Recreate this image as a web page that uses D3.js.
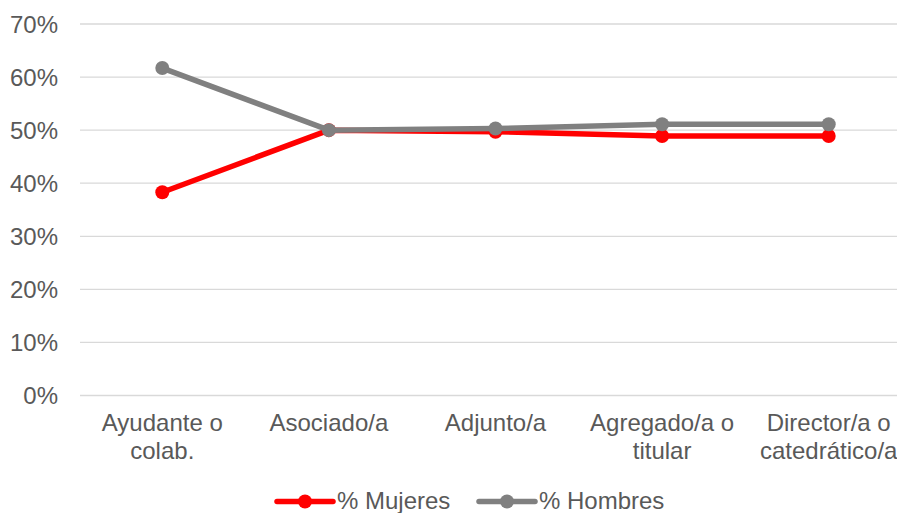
<!DOCTYPE html>
<html><head><meta charset="utf-8">
<script src="https://cdn.jsdelivr.net/npm/d3@7"></script>
<style>body{margin:0;background:#fff}svg{display:block}text{font-family:"Liberation Sans",Arial,sans-serif;fill:#595959}</style>
</head><body><svg id="c" width="897" height="513"></svg>
<script>
const categories = [["Ayudante o","colab."],["Asociado/a"],["Adjunto/a"],["Agregado/a o","titular"],["Director/a o","catedrático/a"]];
const mujeres = [0.383, 0.500, 0.497, 0.489, 0.489];
const hombres = [0.617, 0.500, 0.503, 0.511, 0.511];
const yTicks = [0,0.1,0.2,0.3,0.4,0.5,0.6,0.7];
const seriesNames = ["% Mujeres","% Hombres"];
const colors = ["#FF0000","#808080"];

const FS = 24;
const svg = d3.select("#c");
const ids = d3.range(categories.length);
const x = d3.scaleBand().domain(ids).range([79,912]);
const y = d3.scaleLinear().domain([0,0.7]).range([395.5,24]);

const g = svg.append("g");
g.selectAll("line.grid").data(yTicks).enter().append("line")
  .attr("x1",80).attr("x2",912).attr("y1",d=>y(d)).attr("y2",d=>y(d))
  .attr("stroke","#d9d9d9").attr("stroke-width",1.3);
g.selectAll("text.yl").data(yTicks).enter().append("text")
  .attr("x",58).attr("y",d=>y(d)+8.5).attr("text-anchor","end").attr("font-size",FS)
  .text(d=>d3.format(".0%")(d));

categories.forEach((lines,i)=>{
  const t = g.append("text").attr("text-anchor","middle").attr("font-size",FS)
    .attr("x",x(i)+x.bandwidth()/2).attr("y",431);
  lines.forEach((l,j)=>t.append("tspan").attr("x",x(i)+x.bandwidth()/2).attr("dy",j?27.5:0).text(l));
});

const cx = i => x(i)+x.bandwidth()/2;
[mujeres,hombres].forEach((s,k)=>{
  const line = d3.line().x((d,i)=>cx(i)).y(d=>y(d));
  g.append("path").datum(s).attr("d",line).attr("fill","none")
    .attr("stroke",colors[k]).attr("stroke-width",5.5).attr("stroke-linejoin","round");
  g.selectAll(null).data(s).enter().append("circle")
    .attr("cx",(d,i)=>cx(i)).attr("cy",d=>y(d)).attr("r",7).attr("fill",colors[k]);
});

// legend
const lx = [277, 479];
seriesNames.forEach((n,k)=>{
  const lg = g.append("g");
  lg.append("line").attr("x1",lx[k]).attr("x2",lx[k]+56).attr("y1",501.5).attr("y2",501.5)
    .attr("stroke",colors[k]).attr("stroke-width",5.5).attr("stroke-linecap","round");
  lg.append("circle").attr("cx",lx[k]+28).attr("cy",501.5).attr("r",7).attr("fill",colors[k]);
  lg.append("text").attr("x",lx[k]+60).attr("y",509).attr("font-size",FS).text(n);
});
</script></body></html>
